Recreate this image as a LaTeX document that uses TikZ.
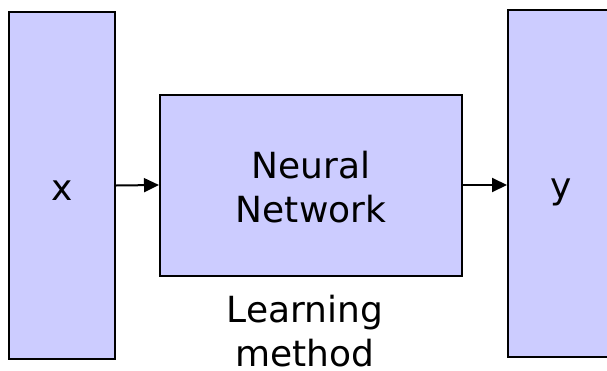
\documentclass[tikz,border=0pt]{standalone}
\usepackage{fontspec}
\setmainfont{DejaVu Sans}
\usetikzlibrary{arrows.meta}
\definecolor{boxfill}{HTML}{CCCCFF}
\tikzset{
  blockbox/.style={draw=black, line width=2pt, fill=boxfill, inner sep=0pt},
  lbl/.style={inner sep=0pt, font=\fontsize{36}{44}\selectfont, align=center},
  conn/.style={line width=2pt, -{Triangle[length=15pt,width=14pt]}}
}
\begin{document}
\begin{tikzpicture}[x=1pt,y=-1pt]
\useasboundingbox (0,0) rectangle (607,370);
\node[blockbox, minimum width=106pt, minimum height=347pt] (xbox) at (62,185.5) {};
\node[blockbox, minimum width=302pt, minimum height=181pt] (nn) at (311,185) {};
\node[blockbox, minimum width=106pt, minimum height=347pt] (ybox) at (561,183.5) {};
\node[lbl] (xt) at (62,190.5) {x};
\node[lbl, anchor=base] (yt) at (561.5,198) {y};
\node[lbl, anchor=north] (nnt) at (311,151) {Neural\\Network};
\node[lbl, anchor=north] (lm) at (305,295) {Learning\\method};
\draw[conn] (xbox.east) -- (nn.west);
\draw[conn] (nn.east) -- (nn.east -| ybox.west);
\end{tikzpicture}
\end{document}
